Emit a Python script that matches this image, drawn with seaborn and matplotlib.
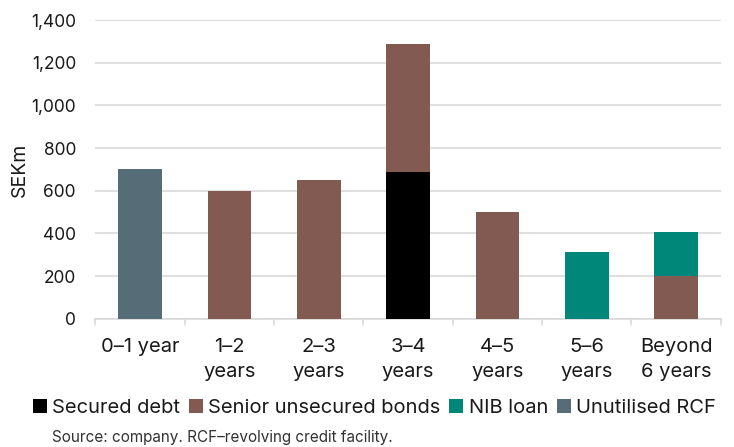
import matplotlib
matplotlib.use("Agg")
import matplotlib.pyplot as plt
import seaborn as sns
import numpy as np
import pandas as pd
from matplotlib.patches import Patch

categories = ["0–1 year", "1–2\nyears", "2–3\nyears", "3–4\nyears", "4–5\nyears", "5–6\nyears", "Beyond\n6 years"]
secured_debt = [0, 0, 0, 690, 0, 0, 0]
senior_bonds = [0, 600, 650, 600, 500, 0, 200]
nib_loan = [0, 0, 0, 0, 0, 315, 205]
unutilised_rcf = [700, 0, 0, 0, 0, 0, 0]
series_names = ["Secured debt", "Senior unsecured bonds", "NIB loan", "Unutilised RCF"]
colors = ["#000000", "#835A52", "#00877A", "#566D77"]
yticks = [0, 200, 400, 600, 800, 1000, 1200, 1400]

sns.set_theme(style="white")
plt.rcParams["font.family"] = ["Inter", "DejaVu Sans"]

fig = plt.figure(figsize=(7.34, 4.47), dpi=100)
ax = fig.add_axes([0.13, 0.287, 0.852, 0.668])

s1 = np.array(secured_debt)
s2 = s1 + np.array(senior_bonds)
s3 = s2 + np.array(nib_loan)
s4 = s3 + np.array(unutilised_rcf)
layers = [s4, s3, s2, s1]
layer_colors = [colors[3], colors[2], colors[1], colors[0]]
for vals, col in zip(layers, layer_colors):
    df = pd.DataFrame({"cat": categories, "val": vals})
    sns.barplot(data=df, x="cat", y="val", color=col, width=0.49, ax=ax,
                saturation=1, zorder=3, linewidth=0)

ax.set_ylim(0, 1400)
ax.set_xlim(-0.5, len(categories) - 0.5)
ax.set_yticks(yticks)
ax.set_yticklabels([f"{v:,}" for v in yticks], fontsize=12.5, color="#1a1a1a")
ax.grid(axis="y", color="#d9d9d9", linewidth=1.2, zorder=0)
ax.set_axisbelow(True)
for sp in ["top", "right", "left"]:
    ax.spines[sp].set_visible(False)
ax.spines["bottom"].set_color("#d9d9d9")
ax.spines["bottom"].set_linewidth(1.2)
ax.set_xlabel("")
ax.set_ylabel("SEKm", fontsize=14, color="#1a1a1a")
ax.yaxis.set_label_coords(-0.107, 0.5)
ax.tick_params(axis="y", length=0, pad=14)

# category labels and boundary ticks
ax.set_xticks(range(len(categories)))
ax.set_xticklabels(categories, fontsize=14.5, color="#1a1a1a", linespacing=1.5)
ax.tick_params(axis="x", length=0, pad=14)
for b in np.arange(-0.5, len(categories), 1.0):
    ax.plot([b, b], [0, -0.02], transform=ax.get_xaxis_transform(), color="#d9d9d9",
            linewidth=1.2, clip_on=False)

handles = [Patch(facecolor=c, edgecolor="none") for c in colors]
fig.legend(handles, series_names, loc="center", bbox_to_anchor=(0.51, 0.087), ncol=4,
           frameon=False, fontsize=14.5, handlelength=0.7, handleheight=0.7,
           handletextpad=0.25, columnspacing=0.45, labelcolor="#1a1a1a")
fig.text(0.071, 0.022, "Source: company. RCF–revolving credit facility.", fontsize=11,
         color="#333333", ha="left", va="center")

fig.savefig("out.png", dpi=100)
